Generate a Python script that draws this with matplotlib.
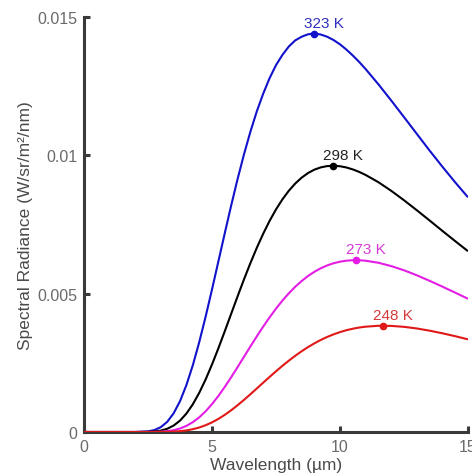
import matplotlib
matplotlib.use("Agg")
import matplotlib.pyplot as plt

plt.rcParams['font.family'] = ['Liberation Sans', 'DejaVu Sans']

# Wavelength samples (um)
wavelength = [0, 0.5, 1, 1.5, 2, 2.5, 2.75, 3, 3.25, 3.5, 3.75, 4, 4.25, 4.5,
              4.75, 5, 5.25, 5.5, 5.75, 6, 6.25, 6.5, 6.75, 7, 7.25, 7.5, 7.75,
              8, 8.25, 8.5, 8.75, 9, 9.25, 9.5, 9.75, 10, 10.25, 10.5, 10.75,
              11, 11.5, 12, 12.5, 13, 13.5, 14, 14.5, 15]

# Spectral radiance (W/sr/m^2/nm)
rad_323 = [0, 0, 0, 0, 0, 0.0000223, 0.0000699, 0.000175, 0.0003665, 0.000674,
           0.0011137, 0.001696, 0.0024106, 0.003242, 0.0041652, 0.005151,
           0.006169, 0.00719, 0.00819, 0.009146, 0.010038, 0.010854, 0.011589,
           0.012228, 0.01279, 0.01326, 0.013629, 0.013932, 0.014154, 0.014287,
           0.014374, 0.014407, 0.014366, 0.014286, 0.014166, 0.014012, 0.013822,
           0.013608, 0.013374, 0.013119, 0.012568, 0.011983, 0.011382, 0.010776,
           0.010172, 0.009589, 0.009024, 0.008483]
rad_298 = [0, 0, 0, 0, 0, 0.000005, 0.000018, 0.0000502, 0.000116, 0.000232,
           0.000411, 0.000666, 0.0010004, 0.001414, 0.001897, 0.00244,
           0.003028, 0.003645, 0.004275, 0.004904, 0.005518, 0.006105, 0.006657,
           0.007167, 0.007631, 0.008045, 0.008407, 0.008719, 0.008979, 0.009192,
           0.009359, 0.009483, 0.009565, 0.009611, 0.009624, 0.009606, 0.009561,
           0.009491, 0.009401, 0.009291, 0.009029, 0.008718, 0.008377, 0.008016,
           0.007645, 0.007269, 0.006899, 0.006535]
rad_273 = [0, 0, 0, 0, 0, 0.0000009, 0.0000036, 0.0000115, 0.0000298, 0.0000655,
           0.0001265, 0.000221, 0.0003535, 0.000529, 0.0007478, 0.001008,
           0.0013043, 0.001631, 0.0019815, 0.002347, 0.002719, 0.003091, 0.003457,
           0.003809, 0.004144, 0.004459, 0.004749, 0.005012, 0.005248, 0.005456,
           0.005638, 0.005791, 0.005919, 0.006021, 0.0061, 0.006156, 0.006192,
           0.006209, 0.006208, 0.006191, 0.006117, 0.005997, 0.005845, 0.005665,
           0.005465, 0.005254, 0.005037, 0.004816]
rad_248 = [0, 0, 0, 0, 0, 0.0000001, 0.0000005, 0.000002, 0.0000058, 0.0000144,
           0.0000307, 0.0000584, 0.0001013, 0.000162, 0.0002443, 0.000348,
           0.000474, 0.000621, 0.0007865, 0.000968, 0.001162, 0.001365, 0.001573,
           0.001783, 0.001991, 0.002194, 0.002391, 0.002578, 0.002754, 0.002918,
           0.003068, 0.003205, 0.003328, 0.003436, 0.00353, 0.003611, 0.003679,
           0.003733, 0.003776, 0.003807, 0.003839, 0.003835, 0.003801, 0.003742,
           0.003662, 0.003568, 0.003463, 0.003349]

temp_labels = ['323 K', '298 K', '273 K', '248 K']
peak_wl = [8.97, 9.72, 10.61, 11.69]
peak_val = [0.01440, 0.009626, 0.006211, 0.003842]

x_ticks = [0, 5, 10, 15]
x_tick_labels = ['0', '5', '10', '15']
y_ticks = [0, 0.005, 0.01, 0.015]
y_tick_labels = ['0', '0.005', '0.01', '0.015']

series = [rad_323, rad_298, rad_273, rad_248]
colors = ['#1212cc', '#000000', '#e41de4', '#e01818']
text_colors = ['#2e2ebf', '#222222', '#d43ad4', '#d43a3a']

fig = plt.figure(figsize=(4.72, 4.77), dpi=100)
ax = fig.add_axes([84 / 472, 44 / 477, 384 / 472, 415 / 477])

for ys, c in zip(series, colors):
    ax.plot(wavelength, ys, color=c, lw=1.5, solid_capstyle='butt', zorder=3)

for lbl, px, py, c, tc in zip(temp_labels, peak_wl, peak_val, colors, text_colors):
    ax.plot([px], [py], 'o', color=c, ms=4.5, zorder=4)
    ax.annotate(lbl, (px, py), xytext=(10, 7), textcoords='offset pixels',
                ha='center', va='baseline', fontsize=11, color=tc)

ax.set_xlim(0, 15)
ax.set_ylim(0, 0.015)
ax.set_xticks(x_ticks)
ax.set_xticklabels(x_tick_labels)
ax.set_yticks(y_ticks)
ax.set_yticklabels(y_tick_labels)

for s in ['top', 'right']:
    ax.spines[s].set_visible(False)
for s in ['left', 'bottom']:
    ax.spines[s].set_linewidth(2.2)
    ax.spines[s].set_color('#3a3a3a')

ax.tick_params(direction='in', length=4, width=2.2, color='#3a3a3a',
               labelsize=11.5, labelcolor='#6a6a6a', pad=5)

ax.set_xlabel('Wavelength (\u00b5m)', fontsize=12.5, color='#4a4a4a', labelpad=2)
ax.set_ylabel('Spectral Radiance (W/sr/m\u00b2/nm)', fontsize=12.5, color='#4a4a4a', labelpad=3)

fig.savefig('out.png', dpi=100)
